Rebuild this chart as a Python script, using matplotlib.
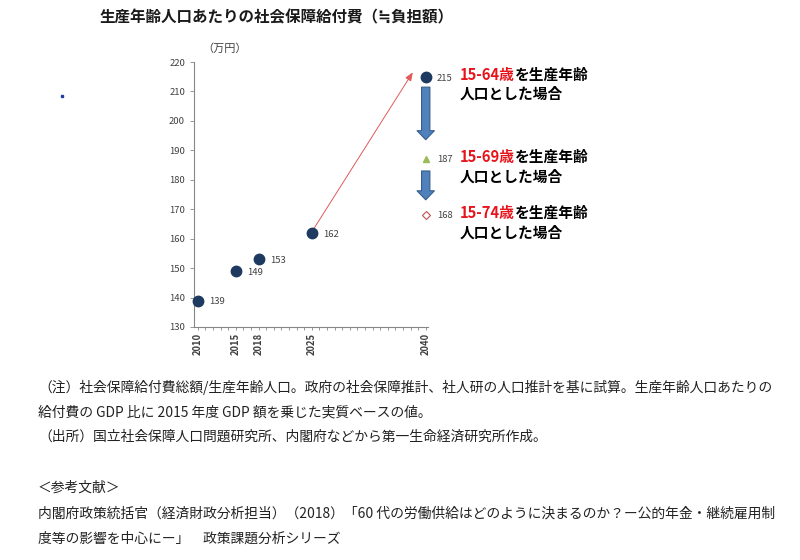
import matplotlib
matplotlib.use("Agg")
import matplotlib.pyplot as plt
from matplotlib.lines import Line2D

plt.rcParams['font.family'] = ['Noto Sans CJK JP', 'DejaVu Sans']

# ---- data ----
years = [2010, 2015, 2018, 2025, 2040]
values_1564 = [139, 149, 153, 162, 215]
value_1569 = 187
value_1574 = 168
tick_years = [2010, 2015, 2018, 2025, 2040]
y_ticks = list(range(130, 221, 10))

title = "生産年齢人口あたりの社会保障給付費（≒負担額）"
unit = "（万円）"
cases = [("15-64歳", values_1564[-1]), ("15-69歳", value_1569), ("15-74歳", value_1574)]
case_rest1 = "を生産年齢"
case_rest2 = "人口とした場合"
notes = [
    "（注）社会保障給付費総額/生産年齢人口。政府の社会保障推計、社人研の人口推計を基に試算。生産年齢人口あたりの",
    "給付費の GDP 比に 2015 年度 GDP 額を乗じた実質ベースの値。",
    "（出所）国立社会保障人口問題研究所、内閣府などから第一生命経済研究所作成。",
]
refs = [
    "＜参考文献＞",
    "内閣府政策統括官（経済財政分析担当）（2018）「60 代の労働供給はどのように決まるのか？ー公的年金・継続雇用制",
    "度等の影響を中心にー」　政策課題分析シリーズ",
]

W, H = 800, 560
fig = plt.figure(figsize=(8, 5.6), dpi=100)
ax = fig.add_axes([194 / W, 1 - 327 / H, (428 - 194) / W, (327 - 62) / H])

navy = '#1F3A60'
ax.plot(years, values_1564, linestyle='none', marker='o', ms=7.5,
        mfc=navy, mec=navy, zorder=5, clip_on=False)
ax.plot([years[-1]], [value_1569], linestyle='none', marker='^', ms=5,
        mfc='#9BBB59', mec='#9BBB59', zorder=5, clip_on=False)
ax.plot([years[-1]], [value_1574], linestyle='none', marker='D', ms=3.8,
        mfc='white', mec='#C0504D', mew=0.8, zorder=5, clip_on=False)

lab_kw = dict(textcoords='offset points', va='center', ha='left',
              fontsize=6.8, color='#404040', annotation_clip=False)
for x, v in zip(years, values_1564):
    ax.annotate(f"{v}", xy=(x, v), xytext=(8, -1), **lab_kw)
ax.annotate(f"{value_1569}", xy=(years[-1], value_1569), xytext=(8, 0), **lab_kw)
ax.annotate(f"{value_1574}", xy=(years[-1], value_1574), xytext=(8, 0), **lab_kw)

# red trend arrow
ax.annotate('', xy=(2038.3, 216.5), xytext=(2025.3, 163.5),
            annotation_clip=False,
            arrowprops=dict(arrowstyle='-|>,head_length=0.5,head_width=0.2',
                            color='#E05A5A', lw=0.7, shrinkA=0, shrinkB=0))

# blue block arrows
blk = dict(arrowstyle='simple,head_length=0.65,head_width=1.25,tail_width=0.6',
           fc='#4F81BD', ec='#385D8A', lw=0.8, mutation_scale=10)
ax.annotate('', xy=(years[-1], value_1569), xytext=(years[-1], values_1564[-1]),
            annotation_clip=False,
            arrowprops=dict(shrinkA=7.5, shrinkB=14, **blk))
ax.annotate('', xy=(years[-1], value_1574), xytext=(years[-1], value_1569),
            annotation_clip=False,
            arrowprops=dict(shrinkA=8.5, shrinkB=11, **blk))

# case labels
for lab, v in cases:
    t1 = ax.annotate(lab, xy=(years[-1], v), xytext=(24.5, 1.5),
                     textcoords='offset points', va='center', ha='left',
                     fontsize=10.6, fontweight='bold', color='#E8141B',
                     annotation_clip=False)
    ax.annotate(case_rest1, xy=(1, 0.5), xycoords=t1, va='center', ha='left',
                fontsize=10.6, fontweight='bold', color='black')
    ax.annotate(case_rest2, xy=(years[-1], v), xytext=(24.5, -12.5),
                textcoords='offset points', va='center', ha='left',
                fontsize=10.6, fontweight='bold', color='black',
                annotation_clip=False)

ax.set_xlim(2009.5, 2040.3)
ax.set_ylim(130, 220)
ax.set_yticks(y_ticks)
ax.set_xticks(tick_years)
ax.set_xticklabels([str(y) for y in tick_years], rotation=90, fontsize=6.8,
                   color='#404040', fontweight='bold')
ax.set_xticks(range(2010, 2041), minor=True)
ax.tick_params(axis='y', labelsize=6.8, labelcolor='#404040', length=3,
               color='#868686', width=0.6)
ax.tick_params(axis='x', which='both', length=2.5, color='#868686', width=0.6,
               pad=2)
for s in ['top', 'right']:
    ax.spines[s].set_visible(False)
for s in ['left', 'bottom']:
    ax.spines[s].set_color('#868686')
    ax.spines[s].set_linewidth(0.8)

ax.text(0.035, 1.03, unit, transform=ax.transAxes, fontsize=8, color='#404040',
        va='bottom', ha='left')

fig.text(100 / W, 1 - 17 / H, title, fontsize=11.2, fontweight='bold',
         va='center', ha='left', color='#1a1a1a')

fig.add_artist(Line2D([62 / W], [1 - 96 / H], marker='s', ms=1.5,
                      color='#2040A0', linestyle='none'))

note_ys = [387, 412, 437]
for t, yy in zip(notes, note_ys):
    fig.text(38 / W, 1 - yy / H, t, fontsize=9.95, va='center', ha='left',
             color='#222222')
ref_ys = [488, 514, 539]
for t, yy in zip(refs, ref_ys):
    fig.text(38 / W, 1 - yy / H, t, fontsize=9.95, va='center', ha='left',
             color='#222222')

fig.savefig('out.png', dpi=100)
